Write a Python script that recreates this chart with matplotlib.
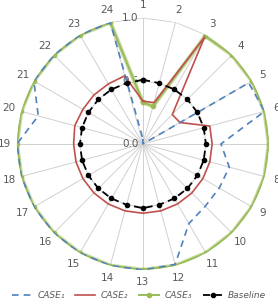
import numpy as np
import matplotlib
matplotlib.use("Agg")
import matplotlib.pyplot as plt
from matplotlib.lines import Line2D

axes_labels = [str(i) for i in range(1, 25)]

case1 = [0.04, 0.0, 0.0, 0.0, 0.97, 1.0, 0.62, 0.71, 0.70, 0.70, 0.73, 0.99,
         1.0, 1.0, 1.0, 1.0, 1.0, 1.0, 1.0, 0.86, 1.0, 1.0, 1.0, 1.0]
case2 = [0.34, 0.34, 0.98, 0.33, 0.34, 0.55, 0.55, 0.55, 0.55, 0.55, 0.55, 0.55,
         0.55, 0.55, 0.55, 0.55, 0.55, 0.55, 0.55, 0.56, 0.55, 0.55, 0.55, 0.56]
case3 = [0.33, 0.31, 0.99, 1.0, 1.0, 1.0, 1.0, 1.0, 1.0, 1.0, 1.0, 1.0,
         1.0, 1.0, 1.0, 1.0, 1.0, 1.0, 1.0, 1.0, 1.0, 1.0, 1.0, 1.0]
baseline = [0.51, 0.5, 0.5, 0.5, 0.5, 0.5, 0.5, 0.5, 0.5, 0.5, 0.5, 0.5,
            0.51, 0.5, 0.5, 0.5, 0.5, 0.5, 0.5, 0.5, 0.5, 0.5, 0.5, 0.5]
radial_ticks = [0.0, 0.5, 1.0]

GRID = "#d0d0d0"
TEXT = "#595959"

n = len(axes_labels)
theta = np.linspace(0, 2 * np.pi, n, endpoint=False)


def closed(vals):
    return np.append(theta, theta[0]), np.append(vals, vals[0])


fig = plt.figure(figsize=(2.78, 3.05), dpi=100)
ax = fig.add_axes([0.061, 0.115, 0.906, 0.826], projection="polar")
ax.set_theta_zero_location("N")
ax.set_theta_direction(-1)
ax.set_ylim(0, 1)
ax.grid(False)
ax.spines["polar"].set_visible(False)
ax.set_xticks([])
ax.set_yticks([])

# spokes and polygon gridlines like an Excel radar
for t in theta:
    ax.plot([t, t], [0, 1], color=GRID, lw=0.7, zorder=1)
for r in radial_ticks[1:]:
    tt, rr = closed([r] * n)
    ax.plot(tt, rr, color=GRID, lw=0.7, zorder=1)

for r in radial_ticks:
    ax.annotate(f"{r:.1f}", (0, r), xytext=(-3, 0), textcoords="offset points",
                ha="right", va="center", fontsize=7.5, color=TEXT, zorder=1)

for t, lab in zip(theta, axes_labels):
    ax.text(t, 1.1, lab, ha="center", va="center", fontsize=7.5, color=TEXT)

tt, rr = closed(case3)
ax.plot(tt, rr, color="#c9dca6", lw=3.0, zorder=2, solid_capstyle="round")
ax.plot(tt, rr, color="#9bbb59", lw=1.4, marker="o", ms=3, zorder=3)
tt, rr = closed(case2)
ax.plot(tt, rr, color="#c0504d", lw=1.2, zorder=4)
tt, rr = closed(case1)
ax.plot(tt, rr, color="#4f81bd", lw=1.2, ls=(0, (4, 3)), zorder=5)
tt, rr = closed(baseline)
ax.plot(tt, rr, color="black", lw=1.3, ls=(0, (4, 2.5)), marker="o", ms=3,
        zorder=6)

handles = [
    Line2D([], [], color="#4f81bd", lw=1.2, ls=(0, (4, 3))),
    Line2D([], [], color="#c0504d", lw=1.2),
    Line2D([], [], color="#9bbb59", lw=1.4, marker="o", ms=3),
    Line2D([], [], color="black", lw=1.3, ls=(0, (4, 2.5)), marker="o", ms=3),
]
names = ["CASE\u2081", "CASE\u2082", "CASE\u2083", "Baseline"]
leg = fig.legend(handles, names, loc="lower center", bbox_to_anchor=(0.5, -0.01),
                 ncol=4, frameon=False, fontsize=6.5, handlelength=2.2,
                 columnspacing=1.2, handletextpad=0.6)
for txt in leg.get_texts():
    txt.set_color(TEXT)
    txt.set_fontstyle("italic")

fig.savefig("out.png", dpi=100)
